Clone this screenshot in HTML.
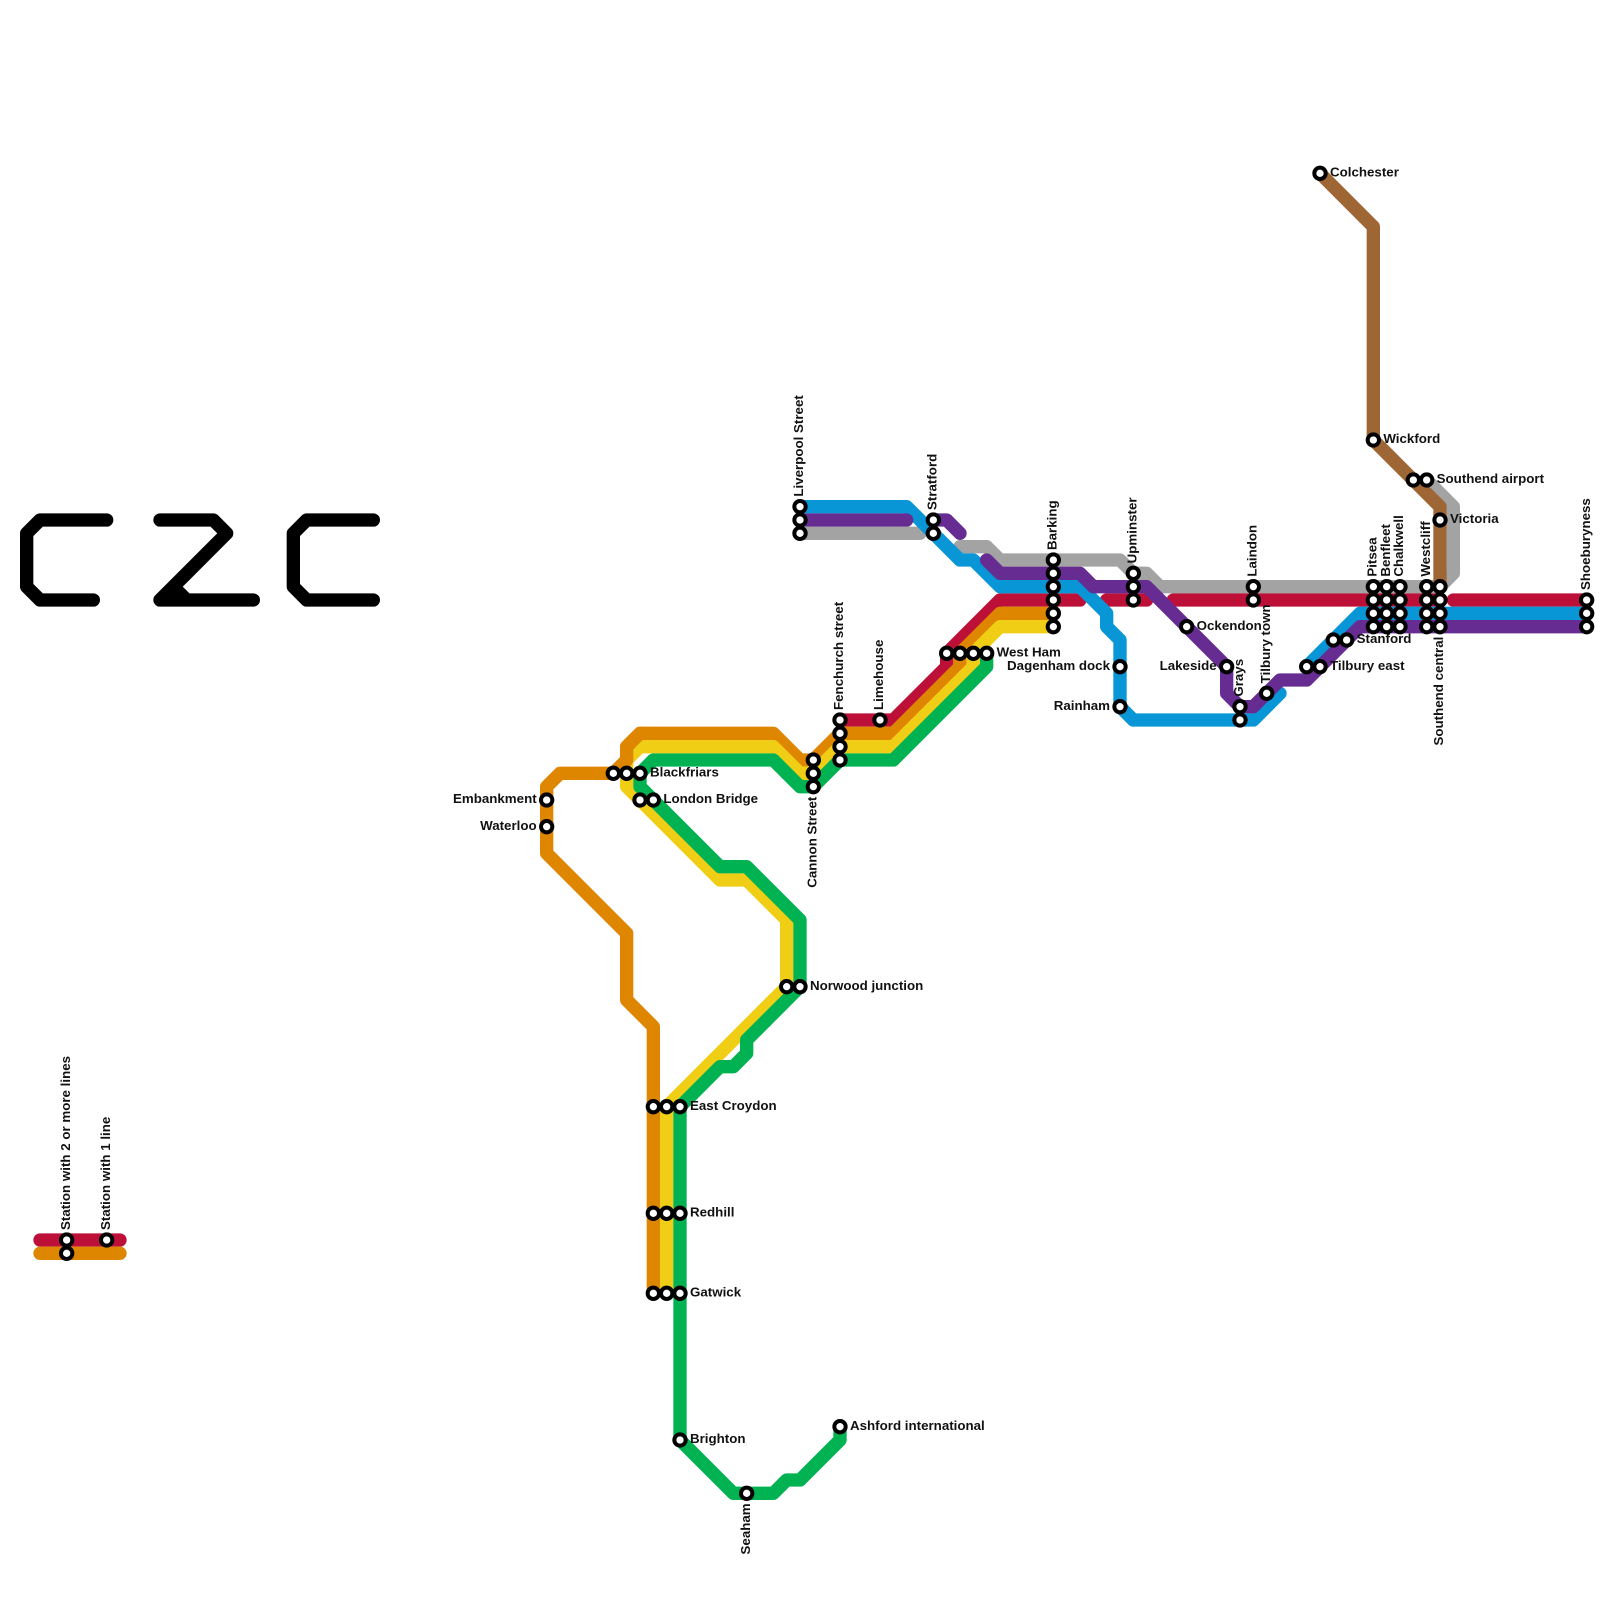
<!DOCTYPE html>
<html><head><meta charset="utf-8"><style>
html,body{margin:0;padding:0;background:#fff}
svg{display:block}
.l{fill:none;stroke-width:1;stroke-linecap:round;stroke-linejoin:round}
.s circle{fill:#fff;stroke:#000;stroke-width:.3;r:.425}
text{font-family:"Liberation Sans",sans-serif;font-weight:bold;font-size:1px;fill:#111}
</style></head><body>
<svg width="1600" height="1600" viewBox="0 0 120 120" xmlns="http://www.w3.org/2000/svg">
<rect width="120" height="120" fill="#fff"/>
<g class="l" stroke="#000">
<path d="M8 39H3L2 40V44L3 45H7"/>
<path d="M12 39H16L17 40L12 45H19M13 44L14 45"/>
<path d="M28 39H23L22 40V44L23 45H28"/>
</g>
<g class="l">
<path stroke="#a3a3a3" d="M60 40H69M72 41H74L75 42H84L85 43H86L87 44H108L109 43V38L107 36"/>
<path stroke="#bd1038" d="M3 93H9M63 54H67L71 50V49L75 45H81M83 45H86M88 45H108M109 45H119"/>
<path stroke="#df8600" d="M3 94H9M79 46H75L72 49V50L67 55H63L61 57H60L58 55H48L47 56V57L46 58H42L41 59V64L47 70V75L49 77V97"/>
<path stroke="#f0ce15" d="M79 47H75L73 49V50L67 56H63L61 58H60L58 56H48L47 57V59L54 66H56L59 69V74L50 83V97"/>
<path stroke="#df8600" d="M48 55L47 56V57L46 58"/>
<path stroke="#00b251" d="M74 49V50L67 57H63L61 59H60L58 57H49L48 58V59L54 65H56L60 69V74L56 78V79L55 80H54L51 83V108L55 112H58L59 111H60L63 108V107"/>
<path stroke="#0896d7" d="M60 38H68L72 42H73L75 44H81L83 46V47L84 48V53L85 54H94L96 52M98 50L102 46H119"/>
<path stroke="#662c91" d="M60 39H68M70 39H71L72 40M74 42L75 43H81L82 44H86L92 50V52L93 53H94L96 51H98L102 47H119"/>
<path stroke="#9e6634" d="M99 13L103 17V33L108 38V44"/>
</g>
<g class="s">
<circle cx="5" cy="93"/><circle cx="5" cy="94"/><circle cx="8" cy="93"/>
<circle cx="60" cy="38"/><circle cx="60" cy="39"/><circle cx="60" cy="40"/>
<circle cx="70" cy="39"/><circle cx="70" cy="40"/>
<circle cx="79" cy="42"/><circle cx="79" cy="43"/><circle cx="79" cy="44"/><circle cx="79" cy="45"/><circle cx="79" cy="46"/><circle cx="79" cy="47"/>
<circle cx="85" cy="43"/><circle cx="85" cy="44"/><circle cx="85" cy="45"/>
<circle cx="71" cy="49"/><circle cx="72" cy="49"/><circle cx="73" cy="49"/><circle cx="74" cy="49"/>
<circle cx="63" cy="54"/><circle cx="63" cy="55"/><circle cx="63" cy="56"/><circle cx="63" cy="57"/>
<circle cx="66" cy="54"/>
<circle cx="61" cy="57"/><circle cx="61" cy="58"/><circle cx="61" cy="59"/>
<circle cx="84" cy="50"/><circle cx="84" cy="53"/>
<circle cx="94" cy="44"/><circle cx="94" cy="45"/>
<circle cx="103" cy="44"/><circle cx="103" cy="45"/><circle cx="103" cy="46"/><circle cx="103" cy="47"/>
<circle cx="104" cy="44"/><circle cx="104" cy="45"/><circle cx="104" cy="46"/><circle cx="104" cy="47"/>
<circle cx="105" cy="44"/><circle cx="105" cy="45"/><circle cx="105" cy="46"/><circle cx="105" cy="47"/>
<circle cx="107" cy="44"/><circle cx="107" cy="45"/><circle cx="107" cy="46"/><circle cx="107" cy="47"/>
<circle cx="108" cy="44"/><circle cx="108" cy="45"/><circle cx="108" cy="46"/><circle cx="108" cy="47"/>
<circle cx="108" cy="39"/><circle cx="106" cy="36"/><circle cx="107" cy="36"/>
<circle cx="119" cy="45"/><circle cx="119" cy="46"/><circle cx="119" cy="47"/>
<circle cx="89" cy="47"/><circle cx="92" cy="50"/>
<circle cx="93" cy="53"/><circle cx="93" cy="54"/><circle cx="95" cy="52"/>
<circle cx="98" cy="50"/><circle cx="99" cy="50"/><circle cx="100" cy="48"/><circle cx="101" cy="48"/>
<circle cx="103" cy="33"/><circle cx="99" cy="13"/>
<circle cx="46" cy="58"/><circle cx="47" cy="58"/><circle cx="48" cy="58"/>
<circle cx="48" cy="60"/><circle cx="49" cy="60"/>
<circle cx="41" cy="60"/><circle cx="41" cy="62"/>
<circle cx="59" cy="74"/><circle cx="60" cy="74"/>
<circle cx="49" cy="83"/><circle cx="50" cy="83"/><circle cx="51" cy="83"/>
<circle cx="49" cy="91"/><circle cx="50" cy="91"/><circle cx="51" cy="91"/>
<circle cx="49" cy="97"/><circle cx="50" cy="97"/><circle cx="51" cy="97"/>
<circle cx="51" cy="108"/><circle cx="56" cy="112"/><circle cx="63" cy="107"/>
</g>
<g>
<text x="99.75" y="13.24">Colchester</text>
<text x="103.75" y="33.24">Wickford</text>
<text x="107.75" y="36.24">Southend airport</text>
<text x="108.75" y="39.24">Victoria</text>
<text x="74.75" y="49.24">West Ham</text>
<text x="89.75" y="47.24">Ockendon</text>
<text x="101.75" y="48.24">Stanford</text>
<text x="99.75" y="50.24">Tilbury east</text>
<text x="48.75" y="58.24">Blackfriars</text>
<text x="49.75" y="60.24">London Bridge</text>
<text x="60.75" y="74.24">Norwood junction</text>
<text x="51.75" y="83.24">East Croydon</text>
<text x="51.75" y="91.24">Redhill</text>
<text x="51.75" y="97.24">Gatwick</text>
<text x="51.75" y="108.24">Brighton</text>
<text x="63.75" y="107.24">Ashford international</text>
<g text-anchor="end">
<text x="83.25" y="50.24">Dagenham dock</text>
<text x="83.25" y="53.24">Rainham</text>
<text x="91.25" y="50.24">Lakeside</text>
<text x="40.25" y="60.24">Embankment</text>
<text x="40.25" y="62.24">Waterloo</text>
</g>
<g>
<text transform="translate(5.24 92.25) rotate(-90)">Station with 2 or more lines</text>
<text transform="translate(8.24 92.25) rotate(-90)">Station with 1 line</text>
<text transform="translate(60.24 37.25) rotate(-90)">Liverpool Street</text>
<text transform="translate(70.24 38.25) rotate(-90)">Stratford</text>
<text transform="translate(63.24 53.25) rotate(-90)">Fenchurch street</text>
<text transform="translate(66.24 53.25) rotate(-90)">Limehouse</text>
<text transform="translate(79.24 41.25) rotate(-90)">Barking</text>
<text transform="translate(85.24 42.25) rotate(-90)">Upminster</text>
<text transform="translate(94.24 43.25) rotate(-90)">Laindon</text>
<text transform="translate(103.24 43.25) rotate(-90)">Pitsea</text>
<text transform="translate(104.24 43.25) rotate(-90)">Benfleet</text>
<text transform="translate(105.24 43.25) rotate(-90)">Chalkwell</text>
<text transform="translate(107.24 43.25) rotate(-90)">Westcliff</text>
<text transform="translate(119.24 44.25) rotate(-90)">Shoeburyness</text>
<text transform="translate(93.24 52.25) rotate(-90)">Grays</text>
<text transform="translate(95.24 51.25) rotate(-90)">Tilbury town</text>
</g>
<g text-anchor="end">
<text transform="translate(61.24 59.75) rotate(-90)">Cannon Street</text>
<text transform="translate(56.24 112.75) rotate(-90)">Seaham</text>
<text transform="translate(108.24 47.75) rotate(-90)">Southend central</text>
</g>
</g>
</svg>
</body></html>
